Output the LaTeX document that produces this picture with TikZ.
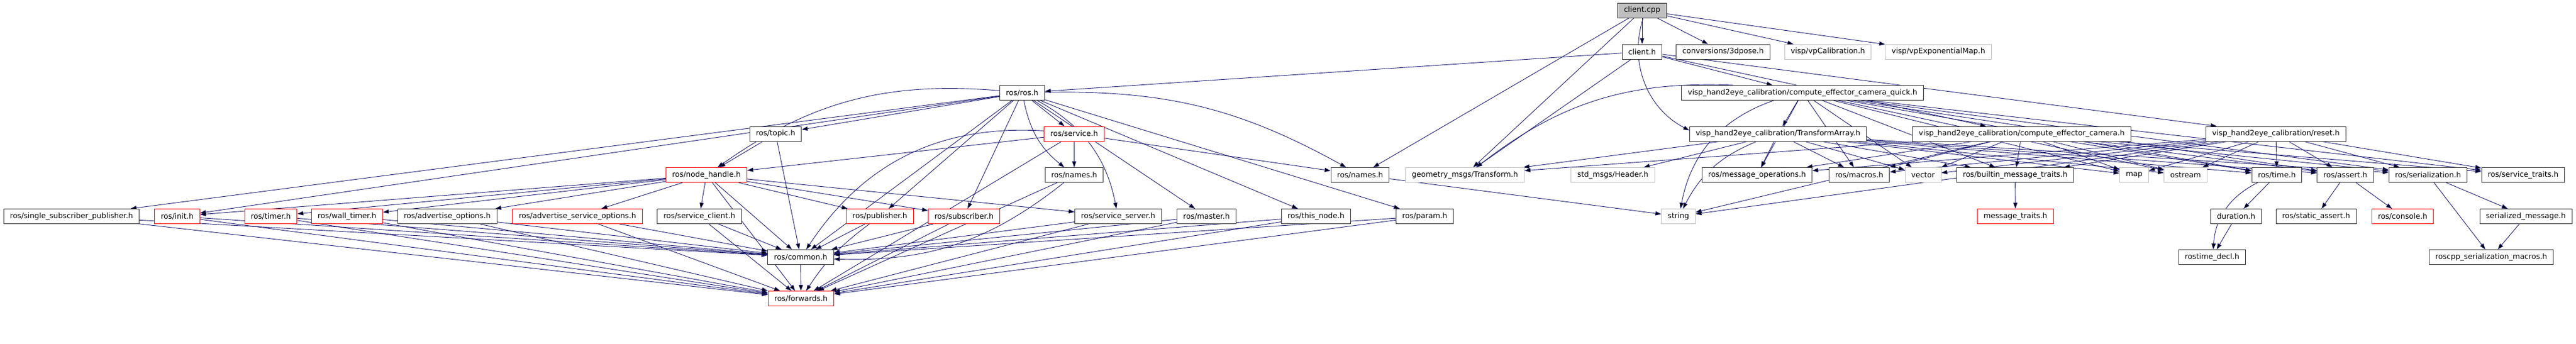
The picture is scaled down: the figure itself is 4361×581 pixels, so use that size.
\documentclass[tikz,border=0pt]{standalone}
\usepackage{fontspec}
\setmainfont{DejaVu Sans}
\usetikzlibrary{arrows.meta,backgrounds}
\definecolor{edgeblue}{RGB}{25,25,112}
\definecolor{extgrey}{RGB}{191,191,191}
\tikzset{
  inc/.style={rectangle,draw=black!80,fill=white,line width=1pt,minimum height=25pt,
    inner xsep=10.5pt,inner ysep=0pt,font=\fontsize{12.6}{14}\selectfont},
  trunc/.style={inc,draw=red},
  sys/.style={inc,draw=extgrey},
  rootfile/.style={inc,fill=extgrey},
  dep/.style={draw=edgeblue,line width=0.9pt,-{Triangle[length=10pt,width=7pt]}}
}
\begin{document}
\begin{tikzpicture}[x=1pt,y=-1pt]
\useasboundingbox (0,0) rectangle (4361,581);

% row 0 and 1
\node[rootfile] (cpp) at (2780,17.5) {client.cpp};
\node[inc] (ch) at (2780,87.5) {client.h};
\node[inc] (pose) at (2917,87.5) {conversions/3dpose.h};
\node[sys] (vpcal) at (3094.5,87.5) {visp/vpCalibration.h};
\node[sys] (vpexp) at (3281.5,87.5) {visp/vpExponentialMap.h};

% row 2
\node[inc] (rosh) at (1730.5,157) {ros/ros.h};
\node[inc] (quick) at (3051.5,157) {visp\_hand2eye\_calibration/compute\_effector\_camera\_quick.h};

% row 3
\node[inc] (topic) at (1313,226.5) {ros/topic.h};
\node[trunc] (service) at (1818.5,226.5) {ros/service.h};
\node[inc] (tarr) at (3010,226.5) {visp\_hand2eye\_calibration/TransformArray.h};
\node[inc] (cec) at (3422.5,226.5) {visp\_hand2eye\_calibration/compute\_effector\_camera.h};
\node[inc] (reset) at (3853,226.5) {visp\_hand2eye\_calibration/reset.h};

% row 4
\node[trunc] (nh) at (1196,296) {ros/node\_handle.h};
\node[inc] (names1) at (1818.5,296) {ros/names.h};
\node[inc] (names2) at (2302.5,296) {ros/names.h};
\node[sys] (tf) at (2480,296) {geometry\_msgs/Transform.h};
\node[sys] (hdr) at (2730.5,296) {std\_msgs/Header.h};
\node[inc] (msgops) at (2974.5,296) {ros/message\_operations.h};
\node[inc] (macros) at (3147.5,296) {ros/macros.h};
\node[sys] (vector) at (3255.5,296) {vector};
\node[inc] (bmt) at (3411.5,296) {ros/builtin\_message\_traits.h};
\node[sys] (map) at (3613,296) {map};
\node[sys] (ostream) at (3700,296) {ostream};
\node[inc] (time) at (3854.5,296) {ros/time.h};
\node[inc] (assert) at (3970.5,296) {ros/assert.h};
\node[inc] (ser) at (4110.5,296) {ros/serialization.h};
\node[inc] (svct) at (4271.5,296) {ros/service\_traits.h};

% row 5
\node[inc] (ssp) at (121,366) {ros/single\_subscriber\_publisher.h};
\node[trunc] (init) at (300,366) {ros/init.h};
\node[trunc] (timer) at (458.5,366) {ros/timer.h};
\node[trunc] (wtimer) at (587.5,366) {ros/wall\_timer.h};
\node[inc] (advopt) at (757,366) {ros/advertise\_options.h};
\node[trunc] (advsvc) at (977.5,366) {ros/advertise\_service\_options.h};
\node[inc] (svcclient) at (1184,366) {ros/service\_client.h};
\node[trunc] (pub) at (1489.5,366) {ros/publisher.h};
\node[trunc] (sub) at (1632,366) {ros/subscriber.h};
\node[inc] (svcsrv) at (1893,366) {ros/service\_server.h};
\node[inc] (master) at (2042.5,366) {ros/master.h};
\node[inc] (thisnode) at (2228,366) {ros/this\_node.h};
\node[inc] (param) at (2412,366) {ros/param.h};
\node[sys] (string) at (2841.5,366) {string};
\node[trunc] (mtraits) at (3412,366) {message\_traits.h};
\node[inc] (duration) at (3785.5,366) {duration.h};
\node[inc] (sassert) at (3921,366) {ros/static\_assert.h};
\node[trunc] (console) at (4067.5,366) {ros/console.h};
\node[inc] (smsg) at (4276,366) {serialized\_message.h};

% row 6 and 7
\node[inc] (common) at (1355.5,435) {ros/common.h};
\node[inc] (rtdecl) at (3745,435) {rostime\_decl.h};
\node[inc] (rsm) at (4217.5,435) {roscpp\_serialization\_macros.h};
\node[trunc] (fwd) at (1356,505) {ros/forwards.h};

\begin{scope}[on background layer]
\path[dep] (cpp) edge (ch) edge (pose) edge (vpcal) edge (vpexp)
  edge (names2) edge (tf) edge[bend right=40] (tarr);
\path[dep] (ch) edge (rosh) edge (tf) edge (quick) edge (cec) edge (reset);
\path[dep] (rosh) edge (ssp) edge (init) edge[bend right=20] (nh) edge (topic)
  edge (service) edge[bend right=20] (names1) edge[bend left=15] (names2)
  edge (pub) edge (sub) edge[bend left=25] (svcsrv) edge (master)
  edge (thisnode) edge (param) edge (common);
\path[dep] (nh) edge (init) edge (timer) edge (wtimer) edge (advopt)
  edge (advsvc) edge (svcclient) edge (pub) edge (sub) edge (svcsrv)
  edge (common) edge (fwd);
\path[dep] (topic) edge (nh) edge (common);
\path[dep] (service) edge (nh) edge (names1) edge (names2)
  edge[bend right=30] (common) edge (fwd);
\path[dep] (names1) edge[bend left=20] (common) edge (fwd);
\path[dep] (names2) edge (string);
\path[dep] (ssp) edge (common) edge (fwd);
\path[dep] (init) edge (common) edge (fwd);
\path[dep] (timer) edge (common) edge (fwd);
\path[dep] (wtimer) edge (common) edge (fwd);
\path[dep] (advopt) edge (common) edge (fwd);
\path[dep] (advsvc) edge (common) edge (fwd);
\path[dep] (svcclient) edge (common) edge (fwd);
\path[dep] (pub) edge (common) edge[bend right=10] (fwd);
\path[dep] (sub) edge (common) edge (fwd);
\path[dep] (svcsrv) edge (common) edge (fwd);
\path[dep] (master) edge (common) edge (fwd);
\path[dep] (thisnode) edge (common) edge (fwd);
\path[dep] (param) edge (common) edge (fwd);
\path[dep] (common) edge (fwd);

\path[dep] (quick) edge (tarr) edge[bend right=20] (tf) edge[bend right=30] (string)
  edge (msgops) edge (macros) edge (vector) edge (bmt) edge (map)
  edge (ostream) edge (time) edge (assert) edge (ser) edge (svct);
\path[dep] (tarr) edge (hdr) edge (tf) edge[bend right=20] (string) edge (msgops)
  edge (macros) edge (vector) edge (bmt) edge (map) edge (ostream)
  edge (time) edge (assert) edge (ser);
\path[dep] (cec) edge (tf) edge (string) edge (msgops) edge (macros)
  edge (vector) edge (bmt) edge (map) edge (ostream) edge (time)
  edge (assert) edge (ser) edge (svct);
\path[dep] (reset) edge (string) edge (msgops) edge (macros) edge (vector)
  edge (bmt) edge (map) edge (ostream) edge (time) edge (assert)
  edge (ser) edge (svct);
\path[dep] (bmt) edge (mtraits);
\path[dep] (time) edge (duration) edge[bend right=30] (rtdecl);
\path[dep] (duration) edge (rtdecl);
\path[dep] (assert) edge (sassert) edge (console);
\path[dep] (ser) edge (smsg) edge (rsm);
\path[dep] (smsg) edge (rsm);
\end{scope}
\end{tikzpicture}
\end{document}
